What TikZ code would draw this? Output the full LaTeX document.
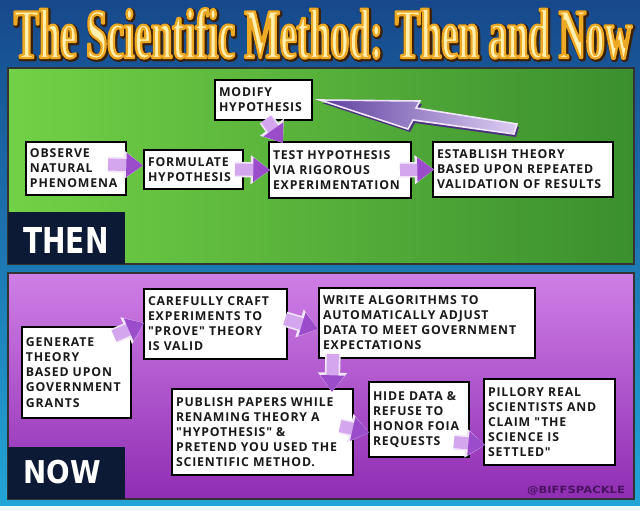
\documentclass[tikz,border=0pt]{standalone}
\usepackage{fontspec}
\setmainfont{Open Sans}
\newfontfamily\boxfont{Open Sans}[LetterSpace=7]
\newfontfamily\titlefont[FakeStretch=0.5]{Liberation Serif}
\newfontfamily\labfont{DejaVu Sans}
\usetikzlibrary{arrows.meta,calc}
\definecolor{bgTop}{HTML}{17498C}
\definecolor{bgBot}{HTML}{22A6D8}
\definecolor{grnL}{HTML}{72D146}
\definecolor{grnR}{HTML}{3B8F2E}
\definecolor{purT}{HTML}{CF7FE6}
\definecolor{purB}{HTML}{8F2DB3}
\definecolor{navy}{HTML}{0D1A35}
\definecolor{ttlDark}{HTML}{3A2208}
\definecolor{ttlFill}{HTML}{FFF0B0}
\definecolor{arLight}{HTML}{F1E6FB}
\definecolor{arShaft}{HTML}{D4A6EE}
\definecolor{arHead}{HTML}{9A4CCB}
\definecolor{bigDark}{HTML}{5E3F9E}
\definecolor{bigLight}{HTML}{DCCDF3}
\definecolor{credit}{HTML}{4A1360}
\newcommand\ttltext[3]{{\color{#1}\special{pdf:literal direct 2 Tr #3 w #2 RG 1 j}%
  \resizebox{463.5pt}{37.5pt}{\titlefont\fontsize{56}{60}\selectfont\bfseries The Scientific Method: Then and Now}%
  \special{pdf:literal direct 0 Tr}}}
\newcommand\barr[2]{%
  \draw[arrow under] #1 -- #2;
  \draw[arrow over] #1 -- #2;}
\begin{document}
\begin{tikzpicture}[x=0.75pt,y=-0.75pt,
  box/.style={draw=black, line width=1.5pt, fill=white, anchor=north west,
    align=left, inner xsep=3pt, inner ysep=2pt, text=black!90,
    font=\boxfont\fontsize{9.2}{11.3}\selectfont\bfseries},
  arrow under/.style={line width=11.5pt, color=arLight,
    -{Triangle[width=21pt,length=14.5pt]}},
  arrow over/.style={line width=9pt, color=arShaft,
    -{Triangle[width=17.5pt,length=12.5pt,fill=arHead,color=arHead]}},
  panel/.style={draw=black!80, line width=0.8pt},
  labbox/.style={fill=navy}
]
\useasboundingbox (0,0) rectangle (640,511);
% background
\shade[top color=bgTop, bottom color=bgBot] (0,0) rectangle (640,511);
\fill[white!92!cyan] (0,506) rectangle (640,511);
% title
\coordinate (ttl) at (323,58);
\node[anchor=base, inner sep=0pt] (tshadow) at ($(ttl)+(1.2,1.2)$) {\ttltext{ttlDark}{0.23 0.13 0.03}{3.4}};
\node[anchor=base, inner sep=0pt] (title) at (ttl) {\ttltext{ttlFill}{0.93 0.66 0.14}{1.7}};
% panels
\shade[panel, left color=grnL, right color=grnR] (8,68) rectangle (634,264);
\shade[panel, top color=purT, bottom color=purB] (8,273) rectangle (634,499);
\fill[labbox] (8,212) rectangle (125,264);
\fill[labbox] (8,447) rectangle (125,499);
\node[anchor=base west, inner sep=0pt, text=white] (thenlbl) at (23,253)
  {\resizebox{64pt}{19.5pt}{\labfont\bfseries THEN}};
\node[anchor=base west, inner sep=0pt, text=white] (nowlbl) at (23,483)
  {\resizebox{58pt}{17.5pt}{\labfont\bfseries NOW}};
\node[anchor=base, inner sep=0pt, text=credit] (credit) at (576,493)
  {\resizebox{73.5pt}{5.5pt}{\labfont\bfseries @BIFFSPACKLE}};
% THEN boxes
\node[box, minimum width=75pt, minimum height=39.75pt, text width=69pt] (obs) at (25,141)
  {OBSERVE\\NATURAL\\PHENOMENA};
\node[box, minimum width=74.25pt, minimum height=29.25pt, text width=68.25pt] (form) at (143,149)
  {FORMULATE\\HYPOTHESIS};
\node[box, minimum width=72.75pt, minimum height=30pt, text width=66.75pt] (mod) at (214,79)
  {MODIFY\\HYPOTHESIS};
\node[box, minimum width=106.5pt, minimum height=42pt, text width=100.5pt] (test) at (268,141)
  {TEST HYPOTHESIS\\VIA RIGOROUS\\EXPERIMENTATION};
\node[box, minimum width=135pt, minimum height=41.25pt, text width=129pt] (est) at (432,141)
  {ESTABLISH THEORY\\BASED UPON REPEATED\\VALIDATION OF RESULTS};
% NOW boxes
\node[box, minimum width=81.75pt, minimum height=68.25pt, text width=75.75pt] (gen) at (21,326)
  {GENERATE\\THEORY\\BASED UPON\\GOVERNMENT\\GRANTS};
\node[box, minimum width=107.25pt, minimum height=52.5pt, text width=101.25pt] (craft) at (143,288)
  {CAREFULLY CRAFT\\EXPERIMENTS TO\\"PROVE" THEORY\\IS VALID};
\node[box, minimum width=162pt, minimum height=52.5pt, text width=156pt] (write) at (318,287)
  {WRITE ALGORITHMS TO\\AUTOMATICALLY ADJUST\\DATA TO MEET GOVERNMENT\\EXPECTATIONS};
\node[box, minimum width=135.75pt, minimum height=64.5pt, text width=129.75pt] (pub) at (171,388)
  {PUBLISH PAPERS WHILE\\RENAMING THEORY A\\"HYPOTHESIS" \&\\PRETEND YOU USED THE\\SCIENTIFIC METHOD.};
\node[box, minimum width=75pt, minimum height=56.25pt, text width=69pt] (hide) at (368,381)
  {HIDE DATA \&\\REFUSE TO\\HONOR FOIA\\REQUESTS};
\node[box, minimum width=98.25pt, minimum height=64.5pt, text width=92.25pt] (pill) at (483,378)
  {PILLORY REAL\\SCIENTISTS AND\\CLAIM "THE\\SCIENCE IS\\SETTLED"};
% big feedback arrow
\coordinate (bt) at ($(mod.east)+(7,0)$);
\fill[bigDark!80!black] ($(bt)+(2,3)$) -- ++(100,1) -- ++(-4,7) -- ++(101,16) -- ++(-3,10) -- ++(-101,-14) -- ++(-5,9) -- cycle;
\shade[left color=bigDark, right color=bigLight, draw=arLight, line width=1.2pt, line join=miter]
  (bt) -- ++(100,1) -- ++(-4,7) -- ++(101,16) -- ++(-3,10) -- ++(-101,-14) -- ++(-5,9) -- cycle;
% THEN arrows
\barr{($(obs.east)+(-19,-4)$)}{($(form.west)+(0,-4)$)}
\barr{($(form.east)+(-9,0)$)}{($(test.west)+(2,0)$)}
\barr{($(mod.south west)+(52,-2)$)}{($(test.north west)+(15,2)$)}
\barr{($(test.east)+(-12,0)$)}{($(est.west)+(2,0)$)}
% NOW arrows
\barr{($(gen.north east)+(-18,10)$)}{($(craft.west)+(1,-1)$)}
\barr{($(craft.east)+(-3,-5)$)}{($(write.west)+(0,6)$)}
\barr{($(write.south west)+(15,-5)$)}{($(pub.north east)+(-22,4)$)}
\barr{($(pub.east)+(-14,-6)$)}{($(hide.west)+(1,13)$)}
\barr{($(hide.south east)+(-16,-16)$)}{($(pill.west)+(2,23)$)}
\end{tikzpicture}
\end{document}
